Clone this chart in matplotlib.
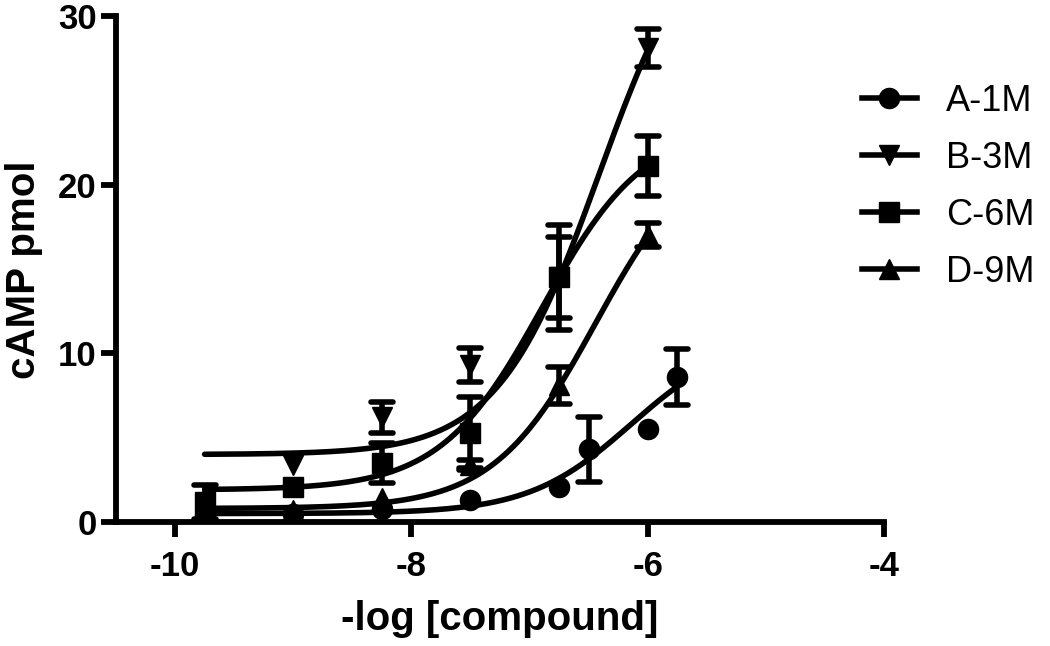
import numpy as np
import matplotlib
matplotlib.use("Agg")
import matplotlib.pyplot as plt
from matplotlib.markers import MarkerStyle

plt.rcParams['font.family'] = ['Liberation Sans', 'DejaVu Sans']
plt.rcParams['axes.unicode_minus'] = False

# ---- data ----
labels = ["A-1M", "B-3M", "C-6M", "D-9M"]
markers = ["o", "v", "s", "^"]

x_A = [-9.75, -9.0, -8.25, -7.5, -6.75, -6.5, -6.0, -5.75]
y_A = [0.5, 0.5, 0.75, 1.3, 2.1, 4.3, 5.5, 8.6]
e_A = [0.0, 0.0, 0.0, 0.0, 0.0, 1.9, 0.0, 1.65]

x_B = [-9.75, -9.0, -8.25, -7.5, -6.75, -6.0]
y_B = [1.0, 3.4, 6.2, 9.3, 14.5, 28.1]
e_B = [0.0, 0.0, 0.9, 1.0, 3.1, 1.15]

x_C = [-9.75, -9.0, -8.25, -7.5, -6.75, -6.0]
y_C = [1.2, 2.1, 3.5, 5.3, 14.5, 21.1]
e_C = [1.0, 0.0, 1.2, 2.1, 2.4, 1.8]

x_D = [-9.75, -9.0, -8.25, -7.5, -6.75, -6.0]
y_D = [0.7, 0.7, 1.4, 3.4, 8.1, 17.0]
e_D = [0.0, 0.0, 0.0, 0.3, 1.1, 0.7]

# fitted dose-response curves (bottom, top, logEC50, hill) and x-range
fit_bottom = [0.5, 4.0, 1.9, 0.8]
fit_top = [11.1, 37.3, 23.6, 22.8]
fit_logec50 = [-6.14, -6.41, -6.89, -6.44]
fit_hill = [1.0, 1.0, 1.0, 1.0]
fit_xmin = [-9.75, -9.75, -9.75, -9.75]
fit_xmax = [-5.75, -6.0, -6.0, -6.0]

xs = [x_A, x_B, x_C, x_D]
ys = [y_A, y_B, y_C, y_D]
es = [e_A, e_B, e_C, e_D]

W, H = 1050, 646
fig = plt.figure(figsize=(W / 100, H / 100), dpi=100)
ax = fig.add_axes([116 / W, 1 - 522 / H, (884 - 116) / W, (522 - 16) / H])

lw = 4.0
ms = 14.5
round_cap = MarkerStyle('_', capstyle='round')
handles = []
for i in range(4):
    xx = np.linspace(fit_xmin[i], fit_xmax[i], 300)
    yy = fit_bottom[i] + (fit_top[i] - fit_bottom[i]) / (1 + 10 ** ((fit_logec50[i] - xx) * fit_hill[i]))
    ax.plot(xx, yy, color='black', lw=lw, solid_capstyle='round', zorder=2)
    ex = [x for x, e in zip(xs[i], es[i]) if e > 0]
    ey = [y for y, e in zip(ys[i], es[i]) if e > 0]
    ee = [e for e in es[i] if e > 0]
    _, caps, _ = ax.errorbar(ex, ey, yerr=ee, fmt='none', ecolor='black',
                             elinewidth=lw, capsize=8, capthick=lw, zorder=3)
    for c in caps:
        c.set_marker(round_cap)
    ax.plot(xs[i], ys[i], linestyle='none', marker=markers[i], color='black',
            markersize=ms, zorder=4)
    h, = ax.plot([], [], color='black', lw=lw, marker=markers[i], markersize=ms)
    handles.append(h)

ax.set_xlim(-10.5, -4)
ax.set_ylim(0, 30)
ax.set_xticks([-10, -8, -6, -4])
ax.set_yticks([0, 10, 20, 30])
for s in ['top', 'right']:
    ax.spines[s].set_visible(False)
for s in ['left', 'bottom']:
    ax.spines[s].set_linewidth(4.2)
ax.tick_params(axis='both', direction='out', length=11, width=4.2, labelsize=25)
ax.tick_params(axis='y', pad=3)
ax.tick_params(axis='x', pad=9)
for t in ax.get_xticklabels() + ax.get_yticklabels():
    t.set_fontweight('bold')

fig.text(500 / W, 1 - 630 / H, '-log [compound]', fontsize=29, fontweight='bold',
         ha='center', va='baseline')
fig.text(24 / W, 1 - 270 / H, 'cAMP pmol', fontsize=29, fontweight='bold',
         ha='center', va='center', rotation=90)

leg = fig.legend(handles, labels, loc='center left', bbox_to_anchor=(862 / W, 1 - 187 / H),
                 frameon=False, fontsize=26, handlelength=1.52, labelspacing=0.61,
                 handletextpad=0.8, borderpad=0, borderaxespad=0)

fig.savefig('out.png', dpi=100)
